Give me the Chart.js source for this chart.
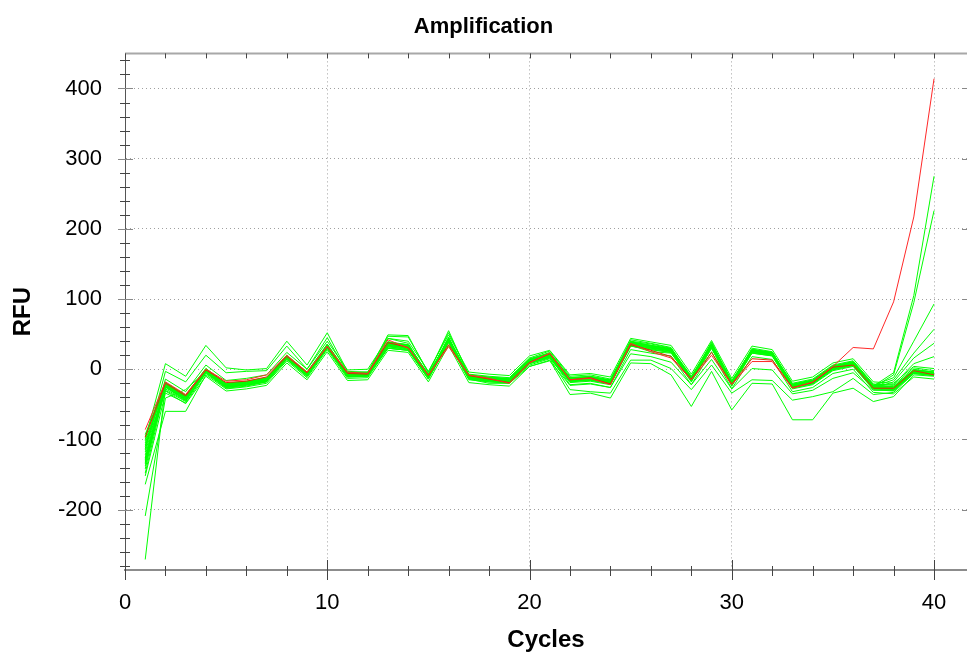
<!DOCTYPE html>
<html>
<head>
<meta charset="utf-8">
<title>Amplification</title>
<script src="https://cdn.jsdelivr.net/npm/chart.js@4.4.0/dist/chart.umd.min.js"></script>
<style>
  html, body { margin: 0; padding: 0; background: #fff; }
  #wrap { width: 967px; height: 655px; }
</style>
</head>
<body>
<div id="wrap"><canvas id="amp" width="967" height="655"></canvas></div>
<script>
// Cycle numbers (x) shared by every well
const cycles = [1,2,3,4,5,6,7,8,9,10,11,12,13,14,15,16,17,18,19,20,
                21,22,23,24,25,26,27,28,29,30,31,32,33,34,35,36,37,38,39,40];

// Red wells: one amplifies, one stays flat
const redRising = [-86,-18,-36,0,-17,-15,-8,20,-4,33,-4,-6,42,30,-8,32,-8,-13,-20,9,23,-15,-13,-22,37,25,16,-15,20,-22,11,11,-27,-18,4,31,29,96,217,414];
const redFlat = [-97,-20,-38,-1,-19,-17,-11,18,-5,32,-6,-7,38,31,-9,35,-9,-14,-19,10,22,-15,-12,-21,35,27,18,-14,24,-21,15,13,-26,-19,3,6,-27,-27,-2,-8];

// Green wells
const green01 = [-93,-19,-37,1,-21,-18,-13,19,-5,35,-6,-5,38,35,-8,44,-9,-12,-14,14,22,-13,-11,-16,38,33,29,-12,35,-18,28,24,-22,-16,4,10,-23,-25,-1,-4];
const green02 = [-105,-24,-42,-3,-24,-21,-16,16,-8,32,-9,-8,35,32,-11,41,-12,-15,-17,11,19,-16,-14,-19,35,30,26,-15,32,-21,25,21,-25,-19,1,7,-26,-28,-4,-7];
const green03 = [-115,-14,-32,6,-16,-13,-8,24,0,40,-1,0,44,40,-3,49,-4,-7,-9,19,27,-8,-6,-11,44,39,34,-7,41,-13,33,28,-17,-11,9,15,-18,-20,4,1];
const green04 = [-122,-26,-44,-5,-26,-23,-18,14,-10,30,-11,-10,32,29,-13,39,-14,-17,-19,9,17,-18,-16,-21,33,28,24,-17,30,-23,23,19,-27,-21,-1,5,-28,-30,-6,-9];
const green05 = [-129,-21,-39,-1,-23,-20,-15,17,-7,33,-8,-7,44,37,-10,46,-11,-14,-16,12,20,-15,-13,-18,42,37,31,-14,39,-20,30,25,-24,-18,2,8,-25,-27,-3,-6];
const green06 = [-138,-23,-41,-2,-25,-22,-17,15,-9,31,-10,-9,30,27,-12,40,-13,-16,-18,10,18,-17,-15,-20,34,25,23,-16,31,-22,24,20,-26,-20,0,6,-27,-29,-5,-8];
const green07 = [-148,-25,-43,-4,-21,-18,-13,19,-5,35,-6,-5,37,35,-8,44,-9,-12,-14,14,22,-13,-11,-16,37,32,27,-12,34,-18,28,23,-22,-16,4,10,-23,-25,-1,-4];
const green08 = [-102,-20,-38,0,-22,-19,-14,18,-6,34,-7,-6,38,34,-9,43,-10,-13,-15,13,21,-14,-12,-17,38,33,28,-13,35,-19,27,23,-23,-17,3,9,-24,-26,-2,-5];
const green09 = [-110,-31,-49,-10,-31,-28,-23,9,-15,25,-16,-15,27,24,-18,34,-19,-22,-24,4,12,-23,-21,-26,28,23,19,-22,25,-28,18,14,-32,-26,-6,0,-33,-35,-11,-14];
const green10 = [-133,-22,-40,-2,-23,-20,-15,17,-7,33,-8,-7,36,33,-10,42,-11,-14,-16,12,20,-15,-13,-18,36,31,27,-14,33,-20,26,22,-24,-18,2,8,-25,-27,-3,-6];
const green11 = [-100,8,-10,34,2,-1,1,40,6,52,-3,-4,47,46,-4,52,-7,-10,-12,16,26,-10,-8,-14,40,36,30,-10,37,-16,28,24,-20,-14,6,12,-21,-23,2,-2];
const green12 = [-113,-3,-18,20,-5,-3,-2,33,0,45,-5,-6,49,48,-6,55,-9,-12,-14,14,24,-12,-10,-16,39,34,29,-12,36,-18,27,23,-22,-16,4,10,-23,-25,0,-4];
const green13 = [-209,-41,-29,-3,-25,-22,-17,15,-9,31,-10,-9,33,30,-12,40,-13,-16,-18,10,18,-17,-15,-20,35,30,26,-16,32,-22,25,21,-26,-20,0,6,-27,-29,-5,-8];
const green14 = [-271,-25,-44,-4,-24,-21,-16,16,-8,32,-9,-8,34,31,-11,41,-12,-15,-17,11,19,-16,-14,-19,36,31,27,-15,33,-21,26,22,-25,-19,1,7,-26,-28,-4,-7];
const green15 = [-164,-60,-60,-8,-28,-25,-20,12,-12,28,-13,-12,30,27,-14,38,-15,-18,-20,8,16,-19,-17,-22,33,28,24,-18,30,-24,23,19,-28,-22,-2,4,-29,-31,-6,-9];
const green16 = [-152,-34,-48,-6,-27,-24,-18,14,-10,30,-11,-10,30,27,-14,39,-14,-20,-20,4,13,-36,-34,-41,9,8,-8,-53,-3,-58,-20,-21,-72,-72,-34,-27,-46,-39,-8,-10];
const green17 = [-126,-30,-46,-4,-26,-22,-17,15,-9,31,-10,-9,32,28,-13,40,-13,-18,-19,6,15,-29,-32,-34,13,13,1,-29,6,-34,-15,-16,-44,-39,-32,-13,-36,-33,-6,-8];
const green18 = [-131,-28,-45,-3,-24,-21,-16,16,-8,32,-9,-8,34,30,-11,41,-12,-16,-18,8,17,-22,-20,-26,22,18,10,-22,14,-28,1,-1,-35,-30,-13,-5,-30,-30,-4,-9];
const green19 = [-142,-21,-39,-1,-22,-19,-14,18,-6,34,-7,-6,39,34,-9,44,-10,-13,-15,13,21,-14,-12,-17,39,34,29,-13,36,-19,28,23,-23,-17,3,9,-24,-5,105,275];
const green20 = [-118,-23,-41,-3,-24,-21,-16,16,-8,32,-9,-8,35,32,-11,41,-12,-15,-17,11,19,-16,-14,-19,36,31,27,-15,33,-21,26,22,-25,-19,1,7,-26,-8,95,226];
const green21 = [-127,-20,-38,0,-21,-18,-13,19,-5,35,-6,-5,37,33,-8,43,-9,-12,-14,14,22,-13,-11,-16,37,32,28,-12,34,-18,27,23,-22,-16,4,10,-23,-12,40,93];
const green22 = [-108,-22,-40,-2,-23,-20,-15,17,-7,33,-8,-7,36,33,-10,42,-11,-14,-16,12,20,-15,-13,-18,36,31,27,-14,33,-20,26,22,-24,-18,2,8,-25,-15,23,57];
const green23 = [-135,-24,-42,-4,-25,-22,-17,15,-9,31,-10,-9,34,31,-12,40,-13,-16,-18,10,18,-17,-15,-20,34,29,25,-16,31,-22,24,20,-26,-20,0,6,-27,-18,16,37];
const green24 = [-96,-19,-37,1,-20,-17,-12,20,-4,36,-5,-4,39,35,-7,44,-8,-11,-13,15,23,-12,-10,-15,39,34,29,-11,36,-17,28,24,-21,-15,5,11,-22,-22,8,18];

const greenWells = [green01, green02, green03, green04, green05, green06, green07, green08,
                    green09, green10, green11, green12, green13, green14, green15, green16,
                    green17, green18, green19, green20, green21, green22, green23, green24];

// Axis ticks
const xMajorTicks = [0, 10, 20, 30, 40];
const yMajorTicks = [-200, -100, 0, 100, 200, 300, 400];
const xMinorStep = 2;
const yMinorStep = 20;

const FONT = '"Liberation Sans", Arial, sans-serif';

function toPoints(values) {
  return values.map((v, i) => ({ x: cycles[i], y: v }));
}

function wellDataset(values, color) {
  return {
    data: toPoints(values),
    borderColor: color,
    borderWidth: 1,
    pointRadius: 0,
    tension: 0,
    fill: false
  };
}

const datasets = [
  wellDataset(redRising, 'rgb(255,40,40)'),
  wellDataset(redFlat, 'rgb(220,40,10)')
].concat(greenWells.map(w => wellDataset(w, 'rgb(0,255,0)')));

// Minor/major tick marks and the top frame line
const tickMarks = {
  id: 'tickMarks',
  afterDraw(chart) {
    const { ctx, chartArea: a, scales: { x, y } } = chart;
    const line = (x1, y1, x2, y2) => {
      ctx.beginPath(); ctx.moveTo(x1, y1); ctx.lineTo(x2, y2); ctx.stroke();
    };
    ctx.save();
    ctx.strokeStyle = '#a8a8a8';
    ctx.lineWidth = 2;
    line(a.left, a.top, a.right, a.top);

    ctx.lineWidth = 1;
    ctx.strokeStyle = '#444';
    for (let c = x.min; c <= 40; c += xMinorStep) {
      const px = Math.round(x.getPixelForValue(c)) + 0.5;
      const major = xMajorTicks.includes(c);
      line(px, a.bottom - (major ? 10 : 4), px, a.bottom + (major ? 10 : 6));
      line(px, a.top, px, a.top + 5);
    }
    for (let v = -280; v <= 440; v += yMinorStep) {
      const py = Math.round(y.getPixelForValue(v)) + 0.5;
      const major = yMajorTicks.includes(v);
      ctx.strokeStyle = major ? '#888' : '#444';
      line(a.left - (major ? 7 : 5), py, a.left + (major ? 8 : 5), py);
      if (major) line(a.right - 5, py, a.right, py);
    }
    ctx.restore();
  }
};

new Chart(document.getElementById('amp'), {
  type: 'line',
  data: { datasets },
  options: {
    responsive: false,
    animation: false,
    events: [],
    layout: { padding: 0 },
    plugins: {
      legend: { display: false },
      tooltip: { enabled: false },
      title: {
        display: true,
        text: 'Amplification',
        color: '#000',
        font: { family: FONT, size: 22, weight: 'bold' },
        padding: { top: 14, bottom: 13 }
      }
    },
    scales: {
      x: {
        type: 'linear',
        min: 0,
        max: 41.63,
        afterFit: s => { s.height = 85; },
        ticks: {
          stepSize: 10,
          includeBounds: false,
          autoSkip: false,
          maxRotation: 0,
          padding: 20,
          color: '#000',
          font: { family: FONT, size: 22 }
        },
        grid: {
          drawTicks: false,
          lineWidth: 1,
          color: c => (c.tick && c.tick.value > 0 && xMajorTicks.includes(c.tick.value)) ? '#a0a0a0' : 'rgba(0,0,0,0)'
        },
        border: { display: true, color: '#8c8c8c', width: 2, dash: [1, 3] },
        title: {
          display: true,
          text: 'Cycles',
          color: '#000',
          font: { family: FONT, size: 24, weight: 'bold' },
          padding: { top: 0, bottom: 0 }
        }
      },
      y: {
        type: 'linear',
        min: -286,
        max: 450,
        afterFit: s => { s.width = 125; },
        ticks: {
          stepSize: yMinorStep,
          includeBounds: false,
          autoSkip: false,
          padding: 23,
          color: '#000',
          font: { family: FONT, size: 22 },
          callback: v => yMajorTicks.includes(v) ? String(v) : ''
        },
        grid: {
          drawTicks: false,
          lineWidth: 1,
          color: c => (c.tick && yMajorTicks.includes(c.tick.value)) ? '#a0a0a0' : 'rgba(0,0,0,0)'
        },
        border: { display: true, color: '#555', width: 1, dash: [1, 3] },
        title: {
          display: true,
          text: 'RFU',
          color: '#000',
          font: { family: FONT, size: 24, weight: 'bold' },
          padding: { top: 9, bottom: 0 }
        }
      }
    }
  },
  plugins: [tickMarks]
});
</script>
</body>
</html>
